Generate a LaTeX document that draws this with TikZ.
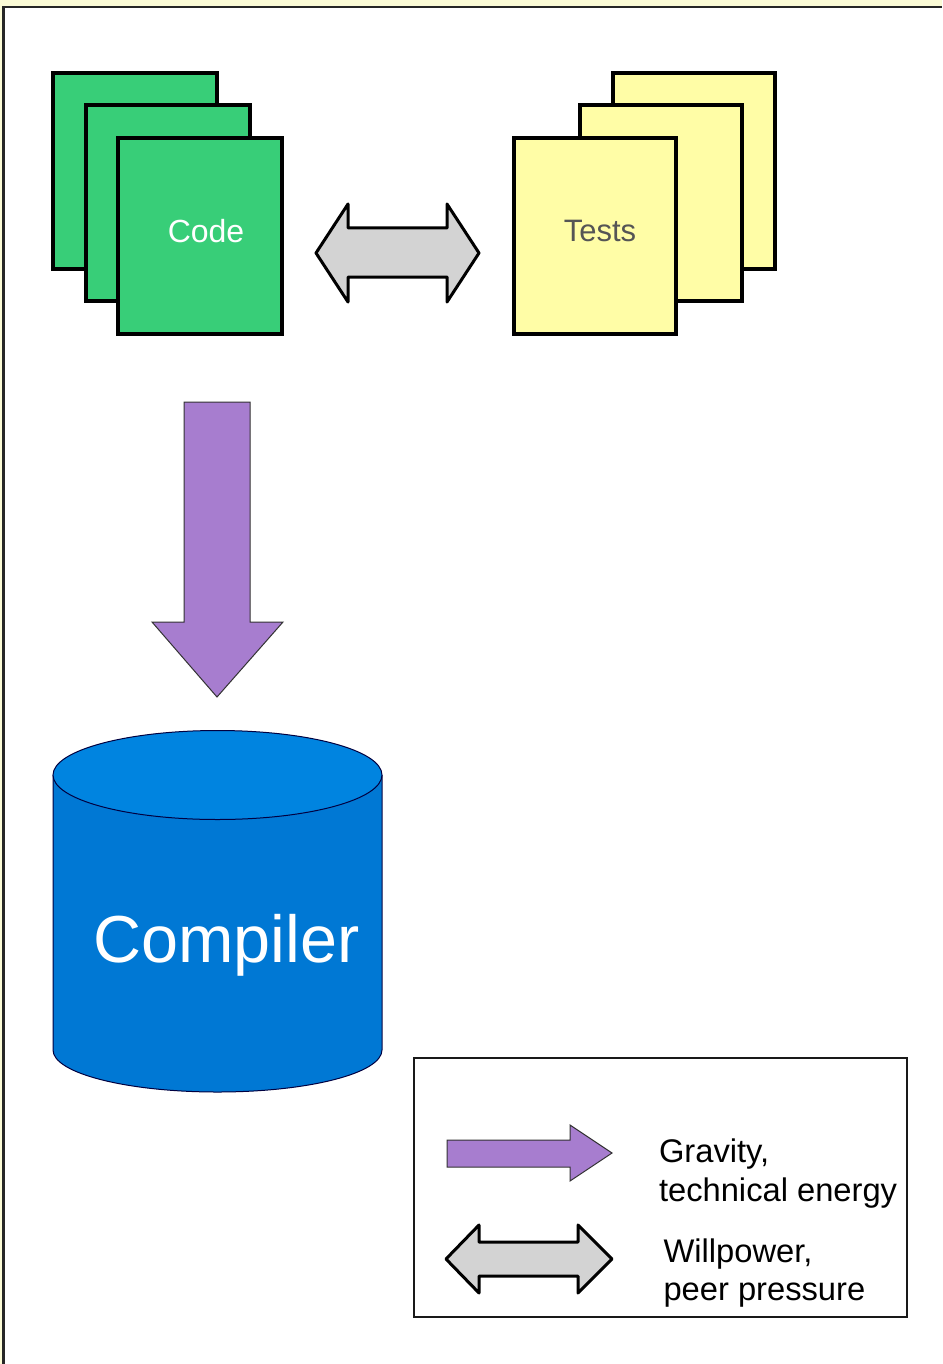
\documentclass[tikz,border=0pt]{standalone}
\usepackage{fontspec}
\setmainfont{Liberation Sans}
\definecolor{bgyellow}{HTML}{FBFBD6}
\definecolor{codegreen}{HTML}{38CE78}
\definecolor{testyellow}{HTML}{FFFDA6}
\definecolor{arrowpurple}{HTML}{A77DCF}
\definecolor{arrowgray}{HTML}{D3D3D3}
\definecolor{cylbody}{HTML}{0078D4}
\definecolor{cyltop}{HTML}{0084E0}
\definecolor{testtext}{HTML}{555555}
\tikzset{
  pagebox/.style={line width=4pt, draw=black, line join=miter},
  codepage/.style={pagebox, fill=codegreen},
  testpage/.style={pagebox, fill=testyellow},
  grayarrow/.style={fill=arrowgray, draw=black, line width=3pt, line join=round},
  purplearrow/.style={fill=arrowpurple, draw=black!80, line width=1pt},
  cylline/.style={draw=black!75!blue, line width=1pt},
  lbl/.style={inner sep=0pt, outer sep=0pt},
}
\begin{document}
\begin{tikzpicture}[x=1pt, y=-1pt]
\useasboundingbox (0,0) rectangle (942,1364);
\fill[bgyellow] (0,0) rectangle (942,1364);
\fill[white] (3.5,7) rectangle (942,1364);
\draw[line width=2.5pt, draw=black!85] (3.5,1364) -- (3.5,7) -- (942,7);

% Code pages
\draw[codepage] (53,73) rectangle (217,269);
\draw[codepage] (85.5,105) rectangle (249.5,301);
\draw[codepage] (118,138) rectangle (282,334);
\node[lbl, anchor=base, text=white, font=\fontsize{32}{38}\selectfont] (code) at (206,243) {Code};

% Test pages
\draw[testpage] (613,73) rectangle (775,269);
\draw[testpage] (580,105) rectangle (742,301);
\draw[testpage] (514,138) rectangle (676,334);
\node[lbl, anchor=base, text=testtext, font=\fontsize{31}{37}\selectfont] (tests) at (600,242) {Tests};

% Gray double arrow
\draw[grayarrow] (316,253) -- (348,204) -- (348,228) -- (447,228) -- (447,204) -- (479,253)
  -- (447,302) -- (447,277) -- (348,277) -- (348,302) -- cycle;

% Purple down arrow
\draw[purplearrow] (184,402) -- (250,402) -- (250,622) -- (283,622) -- (217,697)
  -- (152,622) -- (184,622) -- cycle;

% Cylinder
\fill[cylbody] (217.5,1050) ellipse [x radius=164.5pt, y radius=42pt];
\fill[cylbody] (53,775) rectangle (382,1050);
\draw[cylline] (53,775) -- (53,1050) arc[start angle=180, end angle=360, x radius=164.5pt, y radius=42pt] -- (382,775);
\draw[cylline, fill=cyltop] (217.5,775) ellipse [x radius=164.5pt, y radius=44.5pt];
\node[lbl, anchor=base, text=white, font=\fontsize{66.5}{80}\selectfont] (compiler) at (226.5,962) {Compiler};

% Legend
\draw[line width=2pt, draw=black!90] (414,1058) rectangle (907,1317);
\draw[purplearrow] (447,1140) -- (570,1140) -- (570,1125) -- (612,1153) -- (570,1181)
  -- (570,1167) -- (447,1167) -- cycle;
\draw[grayarrow] (446,1259) -- (479,1225) -- (479,1242) -- (578,1242) -- (578,1225) -- (612,1259)
  -- (578,1293) -- (578,1276) -- (479,1276) -- (479,1293) -- cycle;
\node[lbl, anchor=base west, font=\fontsize{32.7}{39}\selectfont] (grav1) at (659,1162) {Gravity,};
\node[lbl, anchor=base west, font=\fontsize{32.7}{39}\selectfont] (grav2) at (659,1201) {technical energy};
\node[lbl, anchor=base west, font=\fontsize{32.7}{39}\selectfont] (will1) at (663.5,1262) {Willpower,};
\node[lbl, anchor=base west, font=\fontsize{32.7}{39}\selectfont] (will2) at (663.5,1300) {peer pressure};
\end{tikzpicture}
\end{document}
